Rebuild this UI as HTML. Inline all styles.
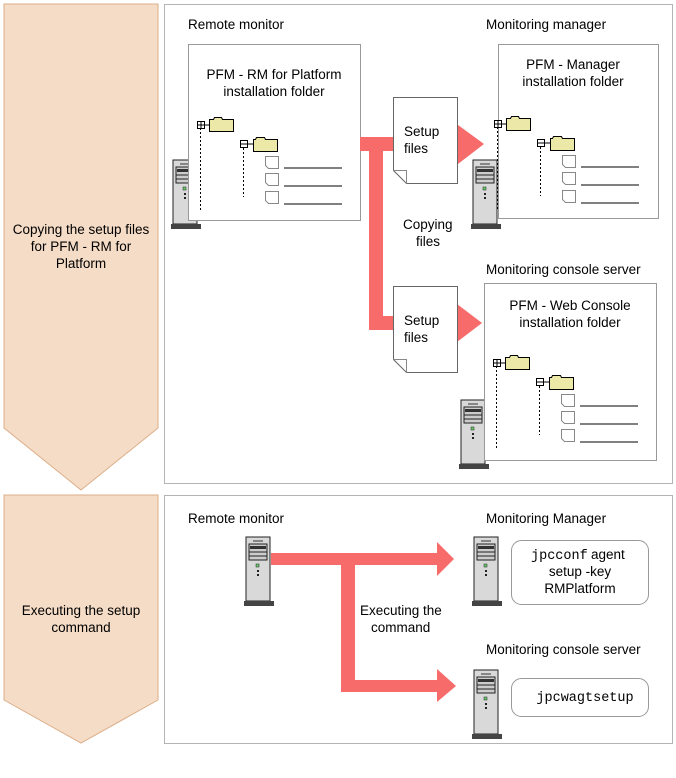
<!DOCTYPE html>
<html><head><meta charset="utf-8"><style>
body{margin:0;background:#fff}
svg text{font-family:"Liberation Sans",sans-serif;font-size:13.5px;fill:#000}
.m{font-family:"Liberation Mono",monospace}
</style></head><body>
<svg width="676" height="773" viewBox="0 0 676 773" xmlns="http://www.w3.org/2000/svg">
<defs>
<g id="srv">
<rect x="2" y="0" width="24" height="64" fill="#d9d9d9" stroke="#222" stroke-width="1"/>
<line x1="9" y1="4" x2="19" y2="4" stroke="#333"/>
<rect x="5" y="7" width="18" height="16" fill="#ccc" stroke="#222"/>
<rect x="6" y="9" width="16" height="3" fill="#333"/>
<line x1="5" y1="15" x2="23" y2="15" stroke="#222"/>
<line x1="5" y1="19" x2="23" y2="19" stroke="#222"/>
<rect x="12" y="27" width="3" height="3" fill="#6c6" stroke="#222" stroke-width="0.5"/>
<rect x="13" y="33" width="2" height="2" fill="#222"/>
<rect x="13" y="37" width="2" height="2" fill="#222"/>
<rect x="0" y="64" width="30" height="5" fill="#444"/>
</g>
<g id="tree">
<rect x="0.5" y="4.5" width="7" height="7" fill="#fff" stroke="#000"/>
<line x1="4" y1="4" x2="4" y2="11" stroke="#000"/><line x1="0" y1="8" x2="7" y2="8" stroke="#000"/>
<line x1="7" y1="8" x2="12" y2="8" stroke="#000"/>
<path d="M12.5 2.5h4l1-2h7l1 2h11v12h-24z" fill="#ebe8a8" stroke="#000"/>
<line x1="3.5" y1="11" x2="3.5" y2="93" stroke="#000" stroke-dasharray="2,2"/>
<rect x="43.5" y="23.5" width="7" height="7" fill="#fff" stroke="#000"/>
<line x1="43" y1="27" x2="51" y2="27" stroke="#000"/>
<line x1="51" y1="27" x2="56" y2="27" stroke="#000"/>
<path d="M56.5 22.5h2l1-2h8l1 2h12v12h-24z" fill="#ebe8a8" stroke="#000"/>
<line x1="46.5" y1="31" x2="46.5" y2="80" stroke="#000" stroke-dasharray="2,2"/>
<path d="M68.5 39.5h13v12h-10l-3-3z" fill="#fff" stroke="#888"/><line x1="87" y1="51" x2="145" y2="51" stroke="#000"/>
<path d="M68.5 56.5h13v12h-10l-3-3z" fill="#fff" stroke="#888"/><line x1="87" y1="69" x2="145" y2="69" stroke="#000"/>
<path d="M68.5 74.5h13v12h-10l-3-3z" fill="#fff" stroke="#888"/><line x1="87" y1="87" x2="145" y2="87" stroke="#000"/>
</g>
<g id="doc"><path d="M0 0h64v86h-51l-13-13z" fill="#fff" stroke="#666"/><path d="M0 73h13v13" fill="none" stroke="#888"/></g>
</defs>
<polygon points="4,4 158,4 158,428 81,490 4,428" fill="#f5dcc6" stroke="#dcae88"/>
<polygon points="4,495 158,495 158,700 81,743 4,700" fill="#f5dcc6" stroke="#dcae88"/>
<text x="81" y="234" text-anchor="middle">Copying the setup files</text>
<text x="81" y="251" text-anchor="middle">for PFM - RM for</text>
<text x="81" y="268" text-anchor="middle">Platform</text>
<text x="81" y="615" text-anchor="middle">Executing the setup</text>
<text x="81" y="632" text-anchor="middle">command</text>
<rect x="164.5" y="4.5" width="508" height="479" fill="#fff" stroke="#b4b4b4"/>
<rect x="164.5" y="495.5" width="508" height="248" fill="#fff" stroke="#b4b4b4"/>
<text x="188" y="29">Remote monitor</text>
<text x="486" y="29">Monitoring manager</text>
<text x="486" y="274">Monitoring console server</text>
<use href="#srv" x="171" y="160"/>
<use href="#srv" x="471" y="160"/>
<use href="#srv" x="459" y="400"/>
<rect x="188.5" y="44.5" width="172" height="176" fill="#fff" stroke="#999"/>
<text x="274" y="79" text-anchor="middle">PFM - RM for Platform</text>
<text x="274" y="96" text-anchor="middle">installation folder</text>
<use href="#tree" x="197" y="117"/>
<rect x="498.5" y="44.5" width="160" height="174" fill="#fff" stroke="#999"/>
<text x="573" y="69" text-anchor="middle">PFM - Manager</text>
<text x="573" y="86" text-anchor="middle">installation folder</text>
<use href="#tree" x="494" y="116"/>
<rect x="484.5" y="283.5" width="172" height="177" fill="#fff" stroke="#999"/>
<text x="570" y="310" text-anchor="middle">PFM - Web Console</text>
<text x="570" y="327" text-anchor="middle">installation folder</text>
<use href="#tree" x="493" y="355"/>
<g fill="#f76b6b">
<rect x="360" y="137" width="100" height="14"/>
<polygon points="458,125 484,144 458,164"/>
<rect x="369" y="137" width="14" height="193"/>
<rect x="369" y="316" width="90" height="14"/>
<polygon points="457,304 482,323 457,342"/>
</g>
<use href="#doc" x="393.5" y="97.5"/>
<use href="#doc" x="393.5" y="286.5"/>
<text x="404" y="136">Setup</text><text x="404" y="153">files</text>
<text x="404" y="325">Setup</text><text x="404" y="342">files</text>
<text x="403" y="229">Copying</text><text x="416" y="246">files</text>
<text x="188" y="523">Remote monitor</text>
<text x="486" y="523">Monitoring Manager</text>
<text x="486" y="654">Monitoring console server</text>
<use href="#srv" x="244" y="537"/>
<use href="#srv" x="472" y="537"/>
<use href="#srv" x="472" y="670"/>
<g fill="#f76b6b">
<rect x="271" y="553" width="168" height="12"/>
<polygon points="437,542 454,559 437,576"/>
<rect x="341" y="553" width="14" height="139"/>
<rect x="341" y="680" width="98" height="12"/>
<polygon points="437,669 456,686 437,702"/>
</g>
<text x="360" y="615">Executing the</text>
<text x="371" y="632">command</text>
<rect x="511.5" y="540.5" width="137" height="64" rx="10" fill="#fff" stroke="#999"/>
<text x="531" y="559" class="m">jpcconf</text><text x="591" y="559">agent</text>
<text x="580" y="576" text-anchor="middle">setup -key</text>
<text x="580" y="593" text-anchor="middle">RMPlatform</text>
<rect x="511.5" y="678.5" width="137" height="38" rx="10" fill="#fff" stroke="#999"/>
<text x="585" y="701" text-anchor="middle" class="m">jpcwagtsetup</text>
</svg>
</body></html>
